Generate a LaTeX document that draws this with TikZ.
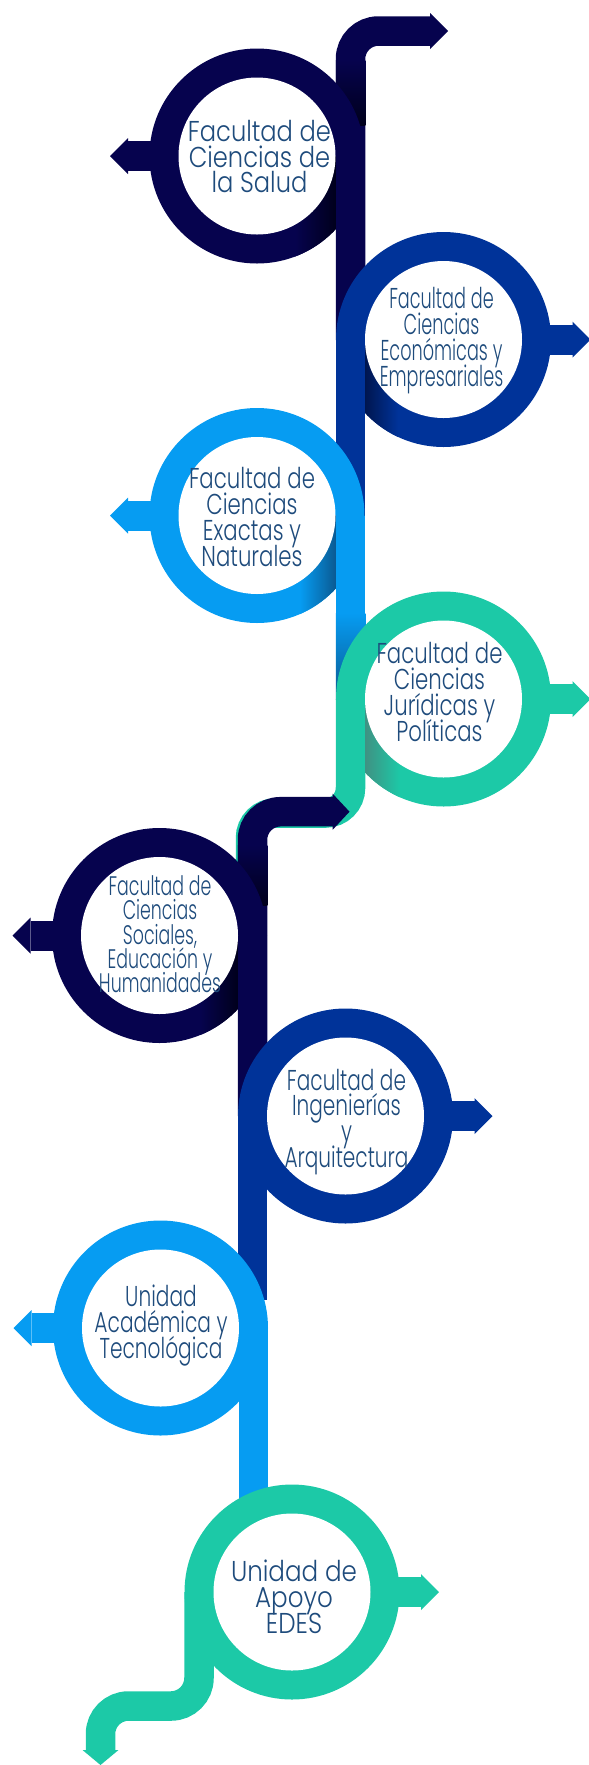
\documentclass[tikz,border=0pt]{standalone}
\usepackage{graphicx}
\usepackage{fontspec}
\setmainfont{Poppins Light}
\definecolor{navy}{HTML}{06034E}
\definecolor{navyd}{HTML}{00001C}
\definecolor{blu}{HTML}{003399}
\definecolor{blud}{HTML}{001650}
\definecolor{lblu}{HTML}{069CF2}
\definecolor{lblud}{HTML}{0A5A92}
\definecolor{tealc}{HTML}{1CC9A7}
\definecolor{teald}{HTML}{3F9283}
\definecolor{txt}{HTML}{1E4B7C}
\newcommand\lbltext[4]{{\fontsize{#2}{#3}\selectfont\resizebox{#1}{\height}{\vbox{\lineskiplimit=-100pt\lineskip=0pt\halign{\hfil##\hfil\cr#4\crcr}}}}}
\newcommand\sidearrow[4]{%
  \fill[#1] ({#2+#4*95},{#3-15}) rectangle ({#2+#4*129},{#3+15});
  \fill[#1] ({#2+#4*129},{#3-18}) -- ({#2+#4*147},{#3}) -- ({#2+#4*129},{#3+18}) -- cycle;
}
\newcommand\mkring[4]{% colour, cx, cy, [extra]
  \fill[#1] (#2,#3) circle (107.5);
  \begin{scope}\clip (#2,#3) circle (107.5); #4 \end{scope}
  \fill[white] (#2,#3) circle (78.5);
}
\tikzset{
  stemline/.style={line width=29.5pt},
  lab/.style={text=txt, inner sep=0pt, anchor=base},
}
\begin{document}
\begin{tikzpicture}[x=1pt,y=-1pt]
\useasboundingbox (0,0) rectangle (589,1765);

% ---------- A (navy) ----------
\draw[navy, stemline, rounded corners=28] (430.5,31) -- (350.5,31) -- (350.5,340);
\fill[navy] (430,13) -- (448,31) -- (430,49) -- cycle;
\shade[top color=navy, bottom color=navyd] (335.75,60) rectangle (365.25,125);
\sidearrow{navy}{257}{156}{-1}
\mkring{navy}{257}{156}{\shade[left color=navy, right color=navyd] (295,156) rectangle (335.75,265);}

% ---------- B (blue) ----------
\fill[blu] (335.75,339.5) rectangle (365.25,515.5);
\sidearrow{blu}{443.5}{339.5}{1}
\mkring{blu}{443.5}{339.5}{\shade[left color=blud, right color=blu] (365.25,339.5) rectangle (398,450);}

% ---------- C (light blue) ----------
\fill[lblu] (335.75,515.5) rectangle (365.25,613);
\shade[top color=lblu, bottom color=lblud] (335.75,613) rectangle (365.25,699);
\sidearrow{lblu}{257}{515.5}{-1}
\mkring{lblu}{257}{515.5}{\shade[left color=lblu, right color=lblud] (300,515.5) rectangle (335.75,625);}

% ---------- D (teal) ----------
\draw[tealc, stemline, rounded corners=25] (350.5,699) -- (350.5,813) -- (250.5,813) -- (250.5,935);
\sidearrow{tealc}{443.5}{699}{1}
\mkring{tealc}{443.5}{699}{\shade[left color=teald, right color=tealc] (365.25,699) rectangle (400,810);}

% ---------- E (navy) ----------
\draw[navy, stemline, rounded corners=28] (333,811.7) -- (252.5,811.7) -- (252.5,1116);
\fill[navy] (332.7,793.7) -- (349.5,811.7) -- (332.7,829.7) -- cycle;
\shade[top color=navy, bottom color=navyd] (237.75,845) rectangle (267.25,905);
\sidearrow{navy}{159.5}{935.5}{-1}
\mkring{navy}{159.5}{935.5}{\shade[left color=navy, right color=navyd] (200,935.5) rectangle (237.75,1045);}

% ---------- F (blue) ----------
\fill[blu] (237.75,1116) rectangle (267.25,1300);
\sidearrow{blu}{345.5}{1116}{1}
\mkring{blu}{345.5}{1116}{}

% ---------- G (light blue) ----------
\fill[lblu] (238.5,1328) rectangle (268,1510);
\sidearrow{lblu}{160.5}{1328}{-1}
\mkring{lblu}{160.5}{1328}{}

% ---------- H (teal) ----------
\draw[tealc, stemline, rounded corners=28] (199,1592) -- (199,1706) -- (100.5,1706) -- (100.5,1751);
\fill[tealc] (82.5,1750) -- (100.5,1765) -- (118.5,1750) -- cycle;
\sidearrow{tealc}{292}{1592}{1}
\mkring{tealc}{292}{1592}{}

% ---------- labels ----------
\node[lab] (tA) at (259.5,192.7) {\lbltext{143pt}{28.7}{25.5}{Facultad de\cr Ciencias de\cr la Salud}};
\node[lab] (tB) at (441.5,386.7) {\lbltext{123.5pt}{28.7}{26.2}{Facultad de\cr Ciencias\cr Económicas y\cr Empresariales}};
\node[lab] (tC) at (252,566.7) {\lbltext{126pt}{28.7}{26.2}{Facultad de\cr Ciencias\cr Exactas y\cr Naturales}};
\node[lab] (tD) at (439.5,741.7) {\lbltext{126pt}{28.7}{26.2}{Facultad de\cr Ciencias\cr Jurídicas y\cr Políticas}};
\node[lab] (tE) at (160,992.7) {\lbltext{122pt}{26.8}{24.25}{Facultad de\cr Ciencias\cr Sociales,\cr Educación y\cr Humanidades}};
\node[lab] (tF) at (346.5,1167.7) {\lbltext{124pt}{28.7}{25.9}{Facultad de\cr Ingenierías\cr y\cr Arquitectura}};
\node[lab] (tG) at (161,1358) {\lbltext{133pt}{28.7}{26}{Unidad\cr Académica y\cr Tecnológica}};
\node[lab] (tH) at (294,1633) {\lbltext{126pt}{28.7}{26}{Unidad de\cr Apoyo\cr EDES}};
\end{tikzpicture}
\end{document}
